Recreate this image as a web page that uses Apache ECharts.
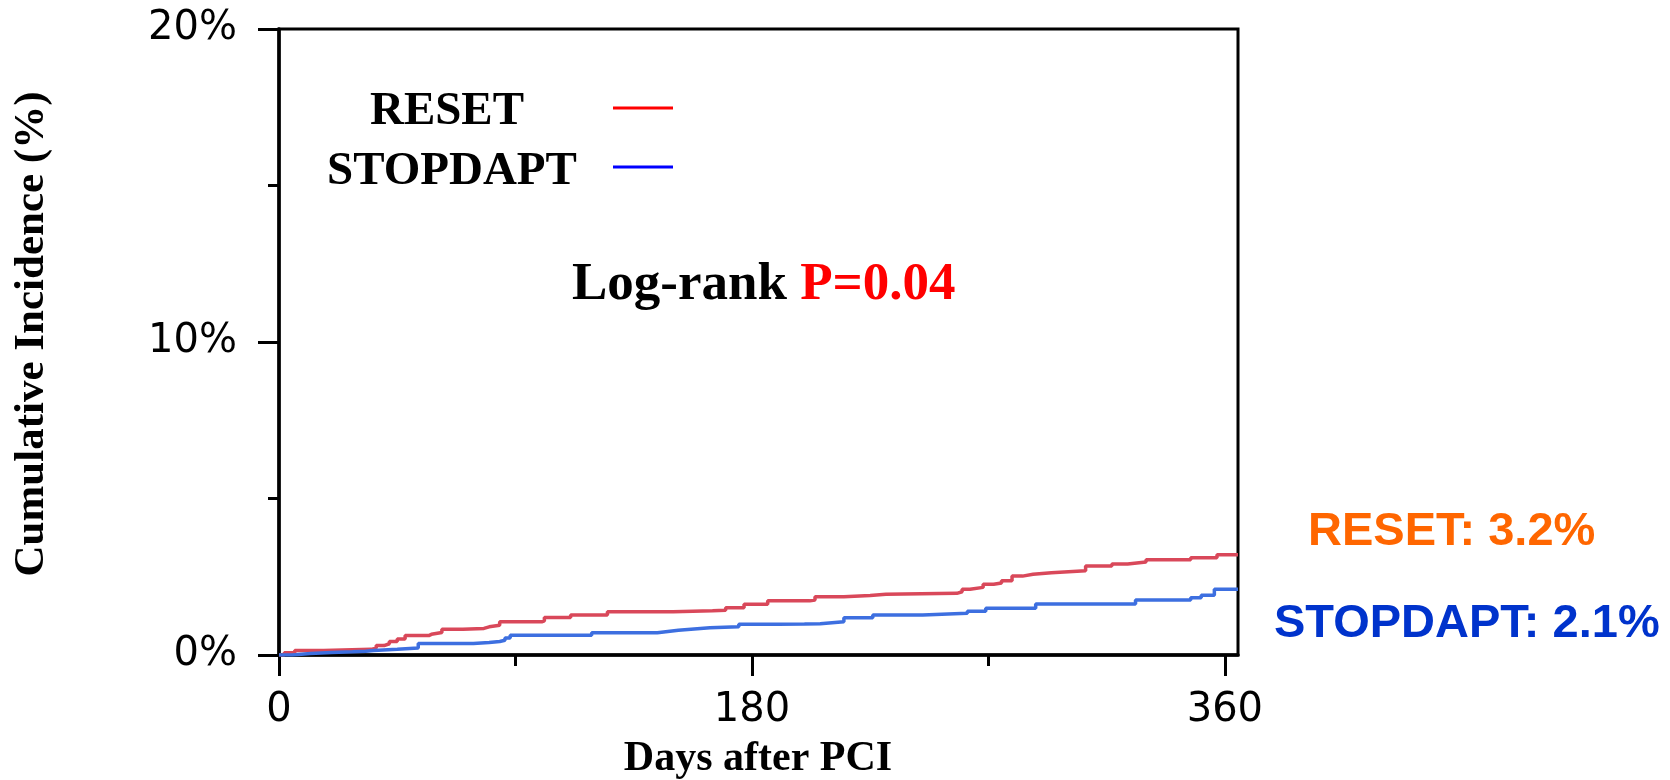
<!DOCTYPE html>
<html>
<head>
<meta charset="utf-8">
<title>Cumulative Incidence</title>
<script src="https://cdn.jsdelivr.net/npm/echarts@6/dist/echarts.min.js"></script>
<style>
  html, body { margin: 0; padding: 0; background: #fff; }
  #chart { width: 1670px; height: 780px; }
</style>
</head>
<body>
<div id="chart"></div>
<script>
// Kaplan-Meier style cumulative incidence, [day, percent] at each step
const resetDays   = [0, 2, 6, 17, 35, 37, 40, 42, 45, 48, 57, 58, 62, 70, 78, 80, 84, 100, 101, 111, 125, 150, 165, 170, 177, 186, 202, 204, 215, 225, 231, 258, 260, 263, 268, 272, 275, 279, 283, 287, 294, 307, 317, 323, 330, 347, 357, 365];
const resetValues = [0, 0.07, 0.14, 0.18, 0.22, 0.30, 0.36, 0.43, 0.51, 0.62, 0.66, 0.72, 0.82, 0.85, 0.90, 0.95, 1.06, 1.09, 1.20, 1.28, 1.38, 1.41, 1.43, 1.51, 1.62, 1.73, 1.76, 1.86, 1.90, 1.94, 1.97, 2.02, 2.10, 2.16, 2.26, 2.30, 2.37, 2.52, 2.58, 2.63, 2.69, 2.84, 2.91, 2.97, 3.04, 3.11, 3.20, 3.20];

const stopDays   = [0, 5, 12, 20, 28, 33, 36, 45, 53, 74, 80, 84, 86, 88, 119, 144, 148, 152, 158, 164, 175, 190, 200, 206, 215, 226, 245, 262, 269, 288, 326, 347, 351, 356, 365];
const stopValues = [0, 0.05, 0.08, 0.10, 0.12, 0.14, 0.18, 0.22, 0.37, 0.40, 0.43, 0.47, 0.54, 0.63, 0.71, 0.75, 0.79, 0.83, 0.87, 0.90, 0.98, 0.99, 1.00, 1.06, 1.19, 1.28, 1.33, 1.40, 1.49, 1.63, 1.76, 1.83, 1.91, 2.10, 2.10];

const xMajorTicks = [0, 180, 360];
const xMinorTicks = [90, 270];
const groupNames  = ['RESET', 'STOPDAPT'];
const oneYearRates = ['3.2%', '2.1%'];
const pValue = '0.04';

const zip = (xs, ys) => xs.map((x, i) => [x, ys[i]]);

const serifBold = '"Liberation Serif", "Times New Roman", serif';
const sansBold = '"Liberation Sans", Arial, sans-serif';
const tickFont = '"DejaVu Sans", Verdana, sans-serif';

const chart = echarts.init(document.getElementById('chart'), null, { renderer: 'canvas' });

chart.setOption({
  animation: false,
  backgroundColor: '#ffffff',
  grid: {
    left: 279, right: 432, top: 29, bottom: 125,
    show: true, borderColor: '#000', borderWidth: 3, backgroundColor: 'transparent'
  },
  xAxis: [
    {
      type: 'value', min: 0, max: 365,
      axisLine: { show: true, onZero: false, lineStyle: { color: '#000', width: 3.5 } },
      axisTick: { show: true, customValues: xMajorTicks, length: 21, lineStyle: { color: '#000', width: 3 } },
      axisLabel: {
        customValues: xMajorTicks, color: '#000', fontSize: 40,
        fontFamily: tickFont, margin: 36
      },
      splitLine: { show: false }
    },
    {
      type: 'value', min: 0, max: 365, position: 'bottom',
      axisLine: { show: false },
      axisTick: { show: true, customValues: xMinorTicks, length: 11, lineStyle: { color: '#000', width: 3 } },
      axisLabel: { show: false },
      splitLine: { show: false }
    }
  ],
  yAxis: {
    type: 'value', min: 0, max: 20, interval: 10,
    axisLine: { show: true, onZero: false, lineStyle: { color: '#000', width: 3.5 } },
    axisTick: { show: true, length: 21, lineStyle: { color: '#000', width: 3 } },
    minorTick: { show: true, splitNumber: 2, length: 11, lineStyle: { color: '#000', width: 3 } },
    axisLabel: {
      formatter: '{value}%', color: '#000', fontSize: 40,
      fontFamily: tickFont, margin: 42
    },
    splitLine: { show: false },
    minorSplitLine: { show: false }
  },
  series: [
    {
      name: groupNames[0], type: 'line', step: 'end', showSymbol: false,
      data: zip(resetDays, resetValues), xAxisIndex: 0,
      lineStyle: { color: '#d9485a', width: 3.5 }, itemStyle: { color: '#d9485a' }
    },
    {
      name: groupNames[1], type: 'line', step: 'end', showSymbol: false,
      data: zip(stopDays, stopValues), xAxisIndex: 0,
      lineStyle: { color: '#3d6fe0', width: 3.5 }, itemStyle: { color: '#3d6fe0' }
    }
  ],
  graphic: [
    // axis titles
    {
      type: 'text', x: 32, y: 334, rotation: Math.PI / 2,
      style: { text: 'Cumulative Incidence (%)', font: 'bold 43px ' + serifBold,
               fill: '#000', align: 'center', verticalAlign: 'middle' }
    },
    {
      type: 'text', x: 758, y: 759,
      style: { text: 'Days after PCI', font: 'bold 42px ' + serifBold,
               fill: '#000', align: 'center', verticalAlign: 'middle' }
    },
    // key
    {
      type: 'text', x: 447, y: 112,
      style: { text: groupNames[0], font: 'bold 47px ' + serifBold, fill: '#000',
               align: 'center', verticalAlign: 'middle' }
    },
    {
      type: 'text', x: 452, y: 172,
      style: { text: groupNames[1], font: 'bold 47px ' + serifBold, fill: '#000',
               align: 'center', verticalAlign: 'middle' }
    },
    {
      type: 'line', shape: { x1: 613, y1: 108, x2: 673, y2: 108 },
      style: { stroke: '#ff0000', lineWidth: 3 }
    },
    {
      type: 'line', shape: { x1: 613, y1: 167, x2: 673, y2: 167 },
      style: { stroke: '#0000ff', lineWidth: 3 }
    },
    // log-rank test
    {
      type: 'text', x: 572, y: 285,
      style: {
        text: '{k|Log-rank }{p|P=' + pValue + '}',
        verticalAlign: 'middle',
        rich: {
          k: { font: 'bold 53px ' + serifBold, fill: '#000' },
          p: { font: 'bold 53px ' + serifBold, fill: '#ff0000' }
        }
      }
    },
    // one-year rates
    {
      type: 'text', x: 1308, y: 532,
      style: { text: groupNames[0] + ': ' + oneYearRates[0], font: 'bold 47px ' + sansBold,
               fill: '#ff6600', verticalAlign: 'middle' }
    },
    {
      type: 'text', x: 1274, y: 624,
      style: { text: groupNames[1] + ': ' + oneYearRates[1], font: 'bold 47px ' + sansBold,
               fill: '#0033cc', verticalAlign: 'middle' }
    }
  ]
});
</script>
</body>
</html>
